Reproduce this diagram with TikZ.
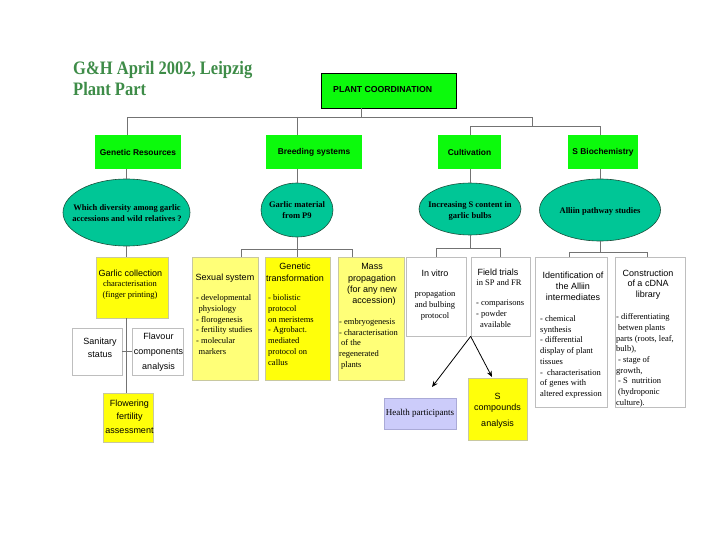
\documentclass[tikz,border=0pt]{standalone}
\usepackage{fontspec}
\setmainfont{Liberation Serif}
\setsansfont{Liberation Sans}
\newfontfamily\ttlfont{Liberation Serif}[FakeStretch=0.87]
\usetikzlibrary{shapes.geometric,arrows.meta}
\definecolor{gbright}{RGB}{12,250,12}
\definecolor{teal1}{RGB}{0,198,150}
\definecolor{tealedge}{RGB}{25,80,60}
\definecolor{ybright}{RGB}{255,255,10}
\definecolor{ypale}{RGB}{255,255,120}
\definecolor{ybord}{RGB}{200,200,160}
\definecolor{lav}{RGB}{204,204,250}
\definecolor{lavbord}{RGB}{170,170,215}
\definecolor{ttlgreen}{RGB}{62,140,72}
\definecolor{lgray}{RGB}{190,190,190}
\definecolor{cgray}{RGB}{115,115,115}
\tikzset{
  box/.style={rectangle, inner sep=0pt, line width=0.7pt},
  wbox/.style={box, draw=lgray, fill=white},
  ybox/.style={box, draw=ybord, fill=ybright},
  pybox/.style={box, draw=ybord, fill=ypale},
  gbox/.style={box, fill=gbright, font=\fontsize{8.4}{10}\selectfont\sffamily\bfseries},
  ell/.style={ellipse, fill=teal1, draw=tealedge, line width=0.6pt, inner sep=0pt},
  etxt/.style={font=\fontsize{8.5}{11}\selectfont\rmfamily\bfseries, align=center, inner sep=0pt},
  hd/.style={font=\fontsize{9}{11}\selectfont\sffamily, inner sep=0pt, align=center, anchor=north},
  bd/.style={font=\fontsize{8.5}{10.7}\selectfont\rmfamily, inner sep=0pt, align=left, anchor=north west},
  conn/.style={draw=cgray, line width=0.7pt},
  arr/.style={draw=black, line width=0.8pt, -{Stealth[length=6pt,width=5pt]}},
  ttl/.style={font=\fontsize{19}{21}\selectfont\ttlfont\bfseries, text=ttlgreen, inner sep=0pt}
}
\begin{document}
\begin{tikzpicture}[x=1pt,y=-1pt]
\fill[white] (0,0) rectangle (720,540);
\useasboundingbox (0,0) rectangle (720,540);

% title
\node[ttl, anchor=base west] (ti1) at (73,75) {G\&H April 2002, Leipzig};
\node[ttl, anchor=base west] (ti2) at (73,96) {Plant Part};

% top box
\node[box, fill=gbright, draw=black, line width=0.9pt, minimum width=135pt, minimum height=35pt] (PC) at (388.5,90.5) {};
\node[font=\fontsize{8.7}{10}\selectfont\sffamily\bfseries, anchor=west, inner sep=0pt] (pct) at (333,90) {PLANT COORDINATION};

% level 2
\node[gbox, minimum width=86pt, minimum height=34pt] (GR) at (138,152) {Genetic Resources};
\node[gbox, minimum width=96pt, minimum height=34pt] (BS) at (314,152) {Breeding systems};
\node[gbox, minimum width=63pt, minimum height=34pt] (CU) at (469.5,152) {Cultivation};
\node[gbox, minimum width=70pt, minimum height=34pt] (SB) at (603,152) {S Biochemistry};

% ellipses
\node[ell, minimum width=127pt, minimum height=67pt] (E1) at (126.5,212.5) {};
\node[ell, minimum width=72pt, minimum height=54pt] (E2) at (297,210) {};
\node[ell, minimum width=102pt, minimum height=52pt] (E3) at (470,209) {};
\node[ell, minimum width=121pt, minimum height=62pt] (E4) at (600,210) {};
\node[etxt] (e1t) at (127,213.5) {Which diversity among garlic\\accessions and wild relatives ?};
\node[etxt] (e2t) at (297,210.5) {Garlic material\\from P9};
\node[etxt] (e3t) at (470,210.5) {Increasing S content in\\garlic bulbs};
\node[etxt] (e4t) at (600,211) {Alliin pathway studies};

% level 3 boxes
\node[ybox, minimum width=72pt, minimum height=61pt] (GC) at (132,287.5) {};
\node[wbox, minimum width=50pt, minimum height=47pt] (SAN) at (97,351.5) {};
\node[wbox, minimum width=51pt, minimum height=47pt] (FLA) at (157.5,351.5) {};
\node[ybox, minimum width=50pt, minimum height=49pt] (FLO) at (128,417.5) {};
\node[pybox, minimum width=66pt, minimum height=123pt] (SS) at (225,318.5) {};
\node[ybox, minimum width=65pt, minimum height=123pt] (GT) at (297.5,318.5) {};
\node[pybox, minimum width=66pt, minimum height=123pt] (MP) at (371,318.5) {};
\node[wbox, minimum width=60pt, minimum height=79pt] (IV) at (436,296.5) {};
\node[wbox, minimum width=59pt, minimum height=79pt] (FT) at (500.5,296.5) {};
\node[wbox, minimum width=72pt, minimum height=150pt] (ID) at (571,332) {};
\node[wbox, minimum width=70pt, minimum height=150pt] (CO) at (650,332) {};
\node[box, fill=lav, draw=lavbord, minimum width=72pt, minimum height=31pt] (HP) at (420,413.5) {};
\node[ybox, minimum width=59pt, minimum height=62pt] (SC) at (497.5,409) {};

% texts of level 3
\node[hd] (gc1) at (130.5,269.5) {Garlic collection};
\node[bd, anchor=north, align=center] (gc2) at (130,280.5) {characterisation\\(finger printing)};
\node[hd, font=\fontsize{9}{13}\selectfont\sffamily] (san1) at (100,337.5) {Sanitary\\status};
\node[hd, font=\fontsize{9}{15}\selectfont\sffamily] (fla1) at (158.5,332.5) {Flavour\\components\\analysis};
\node[hd, font=\fontsize{9}{13.5}\selectfont\sffamily] (flo1) at (129.5,399.5) {Flowering\\fertility\\assessment};

\node[hd] (ss1) at (225,273.5) {Sexual system};
\node[bd] (ss2) at (196,294.8) {- developmental\\\hspace*{2.5pt}physiology\\- florogenesis\\- fertility studies\\- molecular\\\hspace*{2.5pt}markers};

\node[hd, font=\fontsize{9}{12}\selectfont\sffamily] (gt1) at (295,262.3) {Genetic\\transformation};
\node[bd] (gt2) at (268,294.8) {- biolistic\\protocol\\on meristems\\- Agrobact.\\mediated\\protocol on\\callus};

\node[hd, font=\fontsize{9}{11.3}\selectfont\sffamily] (mp1) at (372,263.5) {Mass\\propagation\\(for any new\\\hspace*{4pt}accession)};
\node[bd] (mp2) at (339,318.5) {- embryogenesis\\- characterisation\\\hspace*{2pt}of the\\regenerated\\\hspace*{2pt}plants};

\node[hd] (iv1) at (435,269.5) {In vitro};
\node[bd, anchor=north, align=center, font=\fontsize{8.5}{11}\selectfont\rmfamily] (iv2) at (435,290.5) {propagation\\and bulbing\\protocol};

\node[hd] (ft1) at (498,268.5) {Field trials};
\node[bd, anchor=north, align=center] (ft2) at (499,279.5) {in SP and FR};
\node[bd, font=\fontsize{8.5}{11}\selectfont\rmfamily] (ft3) at (476,299.5) {- comparisons\\- powder\\\hspace*{4pt}available};

\node[hd] (id1) at (573,271.5) {Identification of\\the Alliin\\intermediates};
\node[bd] (id2) at (540,315.5) {- chemical\\synthesis\\- differential\\display of plant\\tissues\\-\hspace{4pt}characterisation\\of genes with\\altered expression};

\node[hd, font=\fontsize{9}{10.5}\selectfont\sffamily] (co1) at (648,269.5) {Construction\\of a cDNA\\library};
\node[bd] (co2) at (616,313.5) {- differentiating\\\hspace*{2pt}betwen plants\\parts (roots, leaf,\\bulb),\\\hspace*{2pt}- stage of\\growth,\\\hspace*{2pt}- S\hspace{4pt}nutrition\\\hspace*{2pt}(hydroponic\\culture).};

\node[font=\fontsize{9}{11}\selectfont\rmfamily, inner sep=0pt] (hpt) at (420,413) {Health participants};
\node[hd] (sc1) at (497.5,393.5) {S\\compounds\\[4.5pt]analysis};

% connectors top tree
\coordinate (t0) at (361,117);
\coordinate (tl) at (127,117);
\coordinate (tb) at (297,117);
\coordinate (tr) at (532,117);
\coordinate (tr2) at (532,126);
\coordinate (tc) at (470,126);
\coordinate (ts) at (600,126);
\draw[conn] (t0 |- PC.south) -- (t0);
\draw[conn] (tl |- GR.north) -- (tl) -- (tr) -- (tr2);
\draw[conn] (tb) -- (tb |- BS.north);
\draw[conn] (tc |- CU.north) -- (tc) -- (ts) -- (ts |- SB.north);

% boxes to ellipses
\draw[conn] (E1.north) -- (E1.north |- GR.south);
\draw[conn] (E2.north) -- (E2.north |- BS.south);
\draw[conn] (E3.north) -- (E3.north |- CU.south);
\draw[conn] (E4.north) -- (E4.north |- SB.south);

% ellipses to level 3
\draw[conn] (E1.south) -- (E1.south |- GC.north);
\coordinate (b2l) at (241,249);
\coordinate (b2r) at (352,249);
\draw[conn] (E2.south) -- (E2.south |- GT.north);
\draw[conn] (b2l |- SS.north) -- (b2l) -- (b2r) -- (b2r |- MP.north);
\coordinate (b3) at (470,248);
\coordinate (b3l) at (436,248);
\coordinate (b3r) at (500,248);
\draw[conn] (E3.south) -- (b3);
\draw[conn] (b3l |- IV.north) -- (b3l) -- (b3r) -- (b3r |- FT.north);
\coordinate (b4) at (600,252);
\coordinate (b4l) at (569,252);
\coordinate (b4r) at (647,252);
\draw[conn] (E4.south) -- (b4);
\draw[conn] (b4l |- ID.north) -- (b4l) -- (b4r) -- (b4r |- CO.north);

% garlic collection chain
\draw[conn] (E1.south |- GC.south) -- (E1.south |- FLO.north);
\draw[conn] (SAN.east) -- (FLA.west);

% arrows
\coordinate (a1) at (432,387);
\coordinate (a2) at (492,377);
\draw[arr] (FT.south west) -- (a1);
\draw[arr] (FT.south west) -- (a2);
\end{tikzpicture}
\end{document}
